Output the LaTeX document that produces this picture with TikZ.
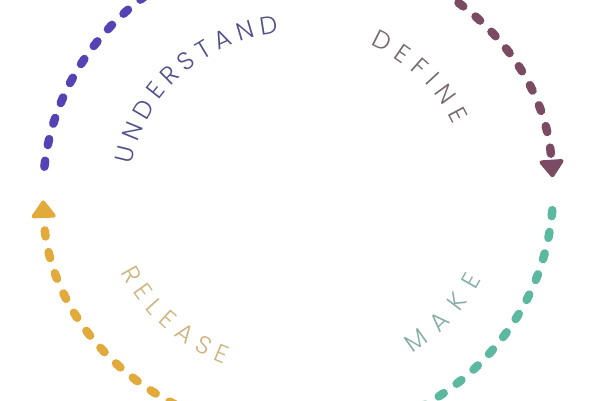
\documentclass[tikz,border=0pt]{standalone}
\usepackage{fontspec}
\newfontfamily\phasefont{Poppins Light}
\usepackage{xcolor}
\definecolor{understand}{HTML}{5443B5}
\definecolor{define}{HTML}{7A4B63}
\definecolor{make}{HTML}{5DB8A2}
\definecolor{release}{HTML}{E2A93B}
\definecolor{understandtext}{HTML}{50508A}
\definecolor{definetext}{HTML}{756870}
\definecolor{maketext}{HTML}{86ADA5}
\definecolor{releasetext}{HTML}{CDB57E}
\usepackage{tikz}
\usetikzlibrary{arrows.meta, calc, decorations.text}

\begin{document}
\begin{tikzpicture}
[x=1pt, y=1pt,
 phase/.style={line width=8.5pt, line cap=round, dash pattern=on 6pt off 16pt,
   -{Triangle[round, line width=4pt, length=19pt, width=27pt]}},
 phasetext/.style={decorate, decoration={text along path, text align=fit to path}},
]

\useasboundingbox (0,0) rectangle (600,400);
\coordinate (c) at (298,208);

% dashed arcs
\coordinate (understand start) at ($(c)+(174:255pt and 242pt)$);
\coordinate (define start) at ($(c)+(86:255pt and 242pt)$);
\coordinate (make start) at ($(c)+(355.7:255pt and 242pt)$);
\coordinate (release start) at ($(c)+(266:255pt and 242pt)$);

\draw[phase, understand] (understand start) arc[start angle=174, end angle=92, x radius=255pt, y radius=242pt];
\draw[phase, define] (define start) arc[start angle=86, end angle=3.5, x radius=255pt, y radius=242pt];
\draw[phase, make] (make start) arc[start angle=355.7, end angle=274, x radius=255pt, y radius=242pt];
\draw[phase, release] (release start) arc[start angle=266, end angle=182, x radius=255pt, y radius=242pt];

% labels
\path[phasetext, decoration={text={|\phasefont\fontsize{25}{25}\selectfont|UNDERSTAND}, text color=understandtext}]
  ($(c)+(170:169pt and 160pt)$) arc[start angle=170, end angle=96.5, x radius=169pt, y radius=160pt];
\path[phasetext, decoration={text={|\phasefont\fontsize{25}{25}\selectfont|DEFINE}, text color=definetext}]
  ($(c)+(65:171pt and 162pt)$) arc[start angle=65, end angle=24.5, x radius=171pt, y radius=162pt];
\path[phasetext, decoration={text={|\phasefont\fontsize{25}{25}\selectfont|MAKE}, text color=maketext}]
  ($(c)+(-56:205pt and 195pt)$) arc[start angle=-56, end angle=-26.5, x radius=205pt, y radius=195pt];
\path[phasetext, decoration={text={|\phasefont\fontsize{25}{25}\selectfont|RELEASE}, text color=releasetext}]
  ($(c)+(205.5:196pt and 186pt)$) arc[start angle=205.5, end angle=248, x radius=196pt, y radius=186pt];
\end{tikzpicture}
\end{document}
